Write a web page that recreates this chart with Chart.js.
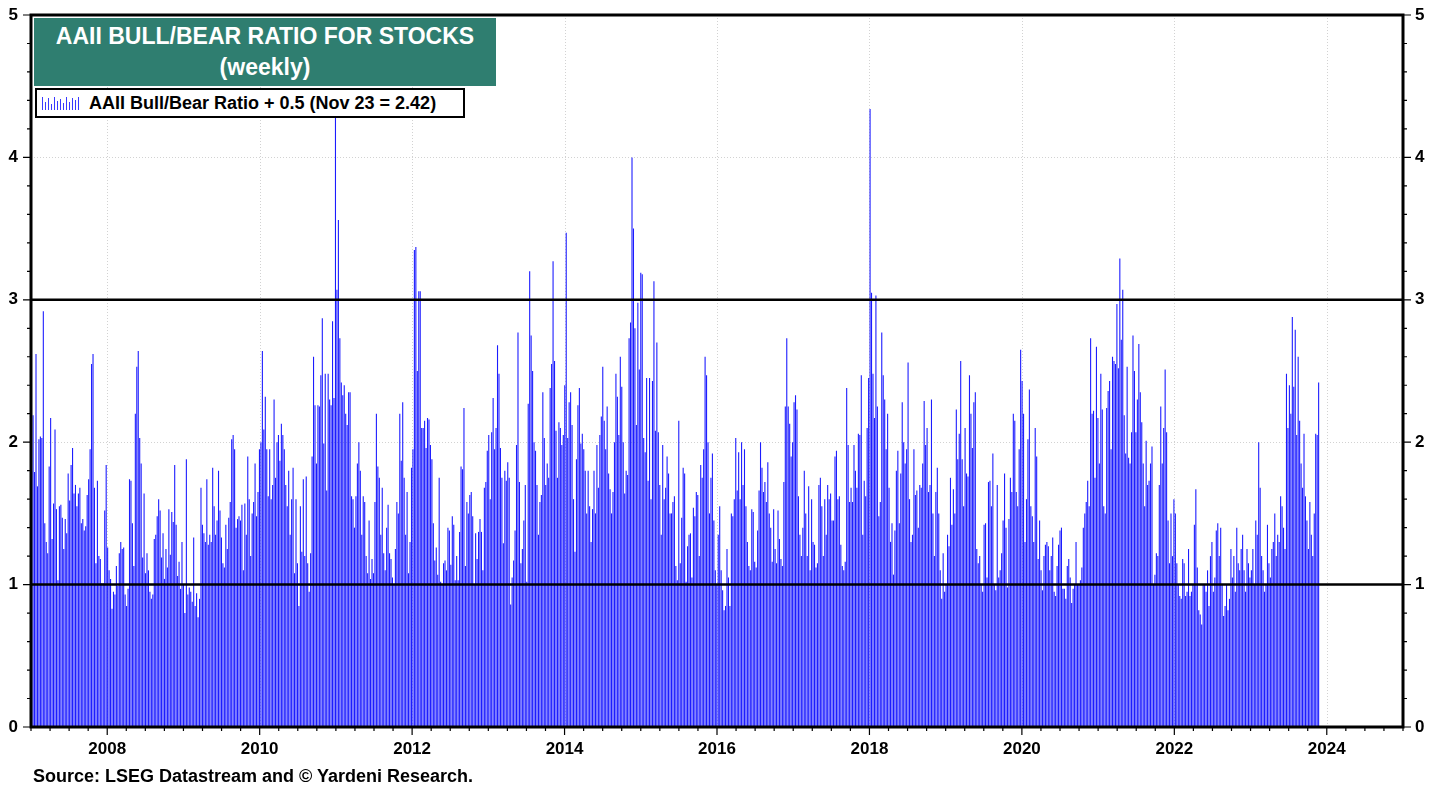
<!DOCTYPE html>
<html>
<head>
<meta charset="utf-8">
<title>AAII Bull/Bear Ratio for Stocks</title>
<script src="https://cdn.jsdelivr.net/npm/chart.js@4.4.0/dist/chart.umd.min.js"></script>
<style>
  html, body { margin: 0; padding: 0; background: #fff; }
  body { width: 1446px; height: 789px; position: relative; overflow: hidden;
         font-family: "Liberation Sans", Arial, sans-serif; }
  #wrap { position: absolute; left: 0; top: 0; width: 1446px; height: 789px; }
  .title { position: absolute; left: 34px; top: 18px; width: 462px; height: 68px;
           box-sizing: border-box; padding-top: 3px; background: #2f7e70; color: #fff;
           font-weight: bold; font-size: 23px; line-height: 31px; text-align: center; }
  .legend { position: absolute; left: 35px; top: 88px; width: 430px; height: 30px;
            box-sizing: border-box; border: 2px solid #000; background: #fff;
            display: flex; align-items: center; font-weight: bold; font-size: 18px; }
  .legend .icon { display: flex; align-items: flex-end; height: 14px; margin: 0 8px 0 5px; }
  .legend .icon span { display: block; width: 1px; margin-right: 2px; background: #3a3aff; }
  .source { position: absolute; left: 33px; top: 766px; font-weight: bold; font-size: 18px;
            line-height: 20px; color: #000; }
</style>
</head>
<body>
<div id="wrap"><canvas id="chart"></canvas></div>
<div class="title">AAII BULL/BEAR RATIO FOR STOCKS<br>(weekly)</div>
<div class="legend"><div class="icon" id="icon"></div>AAII Bull/Bear Ratio + 0.5 (Nov 23 = 2.42)</div>
<div class="source">Source: LSEG Datastream and © Yardeni Research.</div>
<script>
// weekly readings (Thursdays), first one 2007-01-04, last one 2023-11-23
const firstWeek = Date.UTC(2007, 0, 4);

const v2007 = [1.80, 2.19, 1.79, 2.62, 1.69, 2.02, 2.04, 2.03, 2.92, 1.43, 1.30, 1.22, 1.83, 2.17, 1.32, 1.57, 2.09, 1.53, 1.03, 1.55, 1.56, 1.47, 1.25, 1.46, 1.36, 1.78, 1.59, 1.84, 1.96, 1.64, 1.70, 1.55, 1.64, 1.68, 1.43, 1.46, 1.38, 1.41, 1.63, 1.74, 1.95, 2.55, 2.62, 1.68, 1.15, 1.73, 1.20, 1.18, 1.01, 1.01, 1.52, 1.84];
const v2008 = [1.26, 1.10, 1.04, 0.83, 0.95, 0.93, 1.13, 0.99, 1.22, 1.30, 1.25, 1.26, 0.93, 0.85, 0.97, 1.74, 1.73, 1.43, 1.13, 2.20, 2.53, 2.64, 2.03, 1.85, 1.19, 1.64, 1.08, 1.22, 1.10, 0.95, 0.90, 0.93, 1.32, 1.35, 1.48, 1.60, 1.52, 1.19, 1.36, 1.04, 1.25, 1.12, 1.53, 1.21, 1.51, 1.44, 1.84, 1.42, 1.06, 1.16, 0.97, 1.30];
const v2009 = [1.00, 0.80, 1.88, 0.93, 0.98, 0.95, 0.88, 1.33, 0.85, 0.94, 0.77, 0.90, 1.68, 1.42, 1.36, 1.30, 1.74, 1.28, 1.35, 1.30, 1.82, 1.55, 1.35, 1.45, 1.80, 1.52, 1.33, 1.15, 1.12, 1.42, 1.25, 1.47, 1.58, 2.02, 2.05, 1.95, 1.40, 1.46, 1.48, 1.45, 1.56, 1.10, 1.57, 1.35, 1.90, 1.60, 1.20, 1.50, 1.58, 1.85, 1.48, 1.65, 1.95];
const v2010 = [2.00, 2.64, 2.09, 2.32, 1.95, 1.62, 1.95, 1.60, 1.70, 2.30, 1.75, 2.00, 2.05, 1.87, 2.13, 2.05, 1.95, 1.70, 1.55, 1.80, 1.35, 1.60, 1.82, 1.08, 1.60, 1.15, 0.85, 1.55, 1.23, 1.74, 1.20, 1.76, 1.15, 0.95, 1.22, 1.90, 2.60, 2.26, 1.85, 2.26, 2.25, 2.47, 2.87, 1.99, 2.48, 1.66, 2.48, 2.30, 2.26, 2.85, 2.31, 4.38];
const v2011 = [3.07, 3.56, 2.73, 2.42, 2.33, 2.40, 2.20, 2.12, 2.35, 2.35, 1.62, 1.60, 1.40, 1.62, 1.85, 2.00, 1.80, 1.35, 1.62, 1.58, 1.20, 1.08, 1.45, 1.04, 1.18, 1.08, 1.58, 2.20, 1.83, 1.75, 1.35, 1.68, 1.22, 1.10, 1.40, 1.56, 1.22, 1.18, 1.05, 1.00, 1.25, 1.58, 1.50, 2.20, 1.87, 2.28, 1.75, 1.35, 1.65, 1.08, 1.30, 1.82];
const v2012 = [1.95, 3.35, 3.37, 2.50, 3.06, 3.06, 2.10, 2.10, 2.15, 1.96, 2.17, 2.16, 1.98, 1.88, 1.43, 1.17, 1.26, 1.07, 1.75, 1.02, 1.00, 1.15, 1.17, 1.10, 1.40, 1.38, 1.14, 1.48, 1.42, 1.03, 1.20, 1.03, 1.37, 1.83, 1.81, 2.24, 1.13, 1.58, 1.50, 1.63, 1.65, 1.48, 1.00, 1.36, 1.18, 1.37, 1.46, 1.37, 1.10, 1.68, 1.72, 1.94];
const v2013 = [2.05, 1.60, 2.07, 2.31, 1.95, 2.10, 2.68, 2.48, 1.96, 1.75, 1.29, 1.80, 1.73, 1.86, 1.75, 0.86, 1.05, 1.17, 1.38, 1.98, 2.77, 1.72, 1.15, 1.25, 1.45, 1.70, 1.02, 2.27, 3.20, 2.75, 2.50, 2.00, 1.94, 1.70, 1.35, 1.58, 1.63, 2.35, 2.03, 1.70, 1.85, 1.75, 2.38, 2.55, 3.27, 2.57, 2.08, 1.75, 2.14, 2.10, 1.98, 2.05];
const v2014 = [2.40, 3.47, 2.03, 2.28, 2.35, 2.12, 1.60, 1.23, 1.88, 2.26, 2.38, 1.99, 2.06, 1.95, 1.80, 1.50, 1.80, 1.55, 1.30, 1.53, 1.80, 1.50, 1.98, 1.68, 2.05, 2.18, 2.53, 2.15, 1.95, 2.25, 1.78, 1.67, 1.50, 1.65, 2.00, 2.48, 2.32, 2.05, 2.60, 2.39, 2.00, 1.64, 1.80, 1.77, 2.73, 2.84, 4.00, 3.50, 2.80, 2.12, 2.98, 2.51];
const v2015 = [3.19, 3.18, 2.03, 1.93, 2.45, 1.73, 2.45, 1.60, 2.43, 3.13, 2.08, 2.70, 2.07, 1.70, 1.35, 1.98, 1.60, 1.68, 1.90, 1.78, 1.50, 1.50, 1.58, 1.62, 1.13, 1.03, 2.15, 1.15, 1.47, 1.82, 1.78, 1.02, 1.27, 1.35, 1.36, 1.05, 1.54, 1.48, 1.65, 1.63, 1.20, 1.84, 1.75, 1.95, 2.60, 2.47, 2.00, 1.50, 1.75, 1.92, 1.45, 1.10, 1.00];
const v2016 = [1.35, 1.55, 1.10, 0.96, 0.82, 0.85, 1.25, 1.05, 0.85, 1.50, 1.48, 1.60, 2.03, 1.66, 1.93, 1.60, 2.00, 1.70, 1.95, 1.55, 1.30, 1.13, 1.10, 1.53, 1.51, 1.16, 1.12, 1.38, 1.66, 2.00, 1.82, 1.65, 1.72, 1.58, 1.86, 1.50, 1.40, 1.16, 1.53, 1.25, 1.15, 1.52, 1.32, 1.18, 1.13, 1.72, 2.25, 2.73, 2.25, 2.13, 1.90, 2.00];
const v2017 = [2.28, 2.33, 2.23, 1.62, 1.35, 1.20, 1.40, 1.80, 1.50, 1.20, 1.69, 1.10, 1.60, 1.30, 1.28, 1.12, 1.15, 1.70, 1.75, 1.55, 1.20, 1.60, 1.35, 1.70, 1.60, 1.64, 1.45, 1.45, 1.90, 1.94, 1.60, 1.62, 1.28, 1.13, 1.10, 1.16, 2.38, 1.98, 1.58, 1.68, 1.58, 1.98, 1.80, 1.68, 2.06, 2.05, 2.47, 1.35, 1.73, 1.62, 2.10, 2.45];
const v2018 = [4.34, 3.05, 2.48, 2.17, 3.03, 2.25, 1.48, 1.58, 2.77, 2.47, 2.30, 1.95, 2.20, 1.68, 1.30, 1.43, 1.07, 1.38, 1.80, 1.94, 1.43, 1.78, 2.28, 2.00, 1.85, 1.95, 2.56, 1.60, 1.30, 1.35, 1.95, 1.63, 1.66, 1.40, 1.70, 1.68, 1.85, 2.29, 1.98, 2.10, 1.65, 1.70, 2.30, 1.50, 1.20, 1.65, 1.82, 1.50, 1.10, 0.90, 1.22, 0.95];
const v2019 = [1.00, 1.35, 1.27, 1.75, 1.42, 1.67, 1.50, 2.23, 1.88, 2.06, 2.57, 1.88, 1.55, 2.10, 1.78, 1.76, 2.47, 2.20, 1.96, 2.28, 2.35, 1.25, 1.15, 1.20, 1.00, 0.95, 1.42, 1.43, 1.05, 1.72, 1.73, 1.55, 1.92, 1.00, 0.96, 1.70, 1.05, 1.10, 1.22, 1.45, 1.78, 1.40, 0.98, 1.46, 1.75, 1.65, 2.20, 2.15, 1.65, 1.55, 1.95, 2.65];
const v2020 = [2.43, 2.20, 1.30, 1.60, 2.02, 2.37, 1.55, 1.48, 1.30, 2.10, 1.90, 1.18, 1.45, 1.10, 0.96, 1.20, 1.28, 1.30, 1.27, 1.10, 1.20, 1.33, 0.95, 0.92, 1.13, 1.28, 1.38, 1.40, 0.97, 0.97, 0.90, 1.13, 1.18, 1.05, 0.87, 0.97, 1.00, 1.30, 1.00, 1.00, 1.03, 1.12, 1.40, 1.50, 1.58, 1.73, 1.55, 2.73, 2.20, 2.22, 1.75, 2.67, 2.17];
const v2021 = [1.85, 2.48, 2.23, 1.55, 1.50, 2.24, 2.36, 2.43, 1.95, 2.60, 2.57, 2.55, 2.97, 2.52, 3.29, 2.72, 3.07, 2.19, 1.92, 2.53, 1.89, 1.85, 2.07, 2.75, 2.50, 2.07, 2.30, 2.69, 2.35, 2.14, 1.85, 1.55, 2.01, 1.70, 1.73, 1.85, 1.97, 1.00, 1.07, 1.22, 1.20, 1.70, 2.25, 1.85, 2.10, 2.51, 2.07, 1.45, 1.15, 1.50, 1.20, 1.60];
const v2022 = [1.50, 1.15, 1.00, 0.92, 0.90, 1.18, 1.15, 0.92, 0.95, 1.25, 0.92, 0.95, 1.00, 1.42, 1.67, 1.12, 0.82, 0.79, 0.72, 1.00, 1.00, 0.95, 1.10, 0.85, 1.20, 1.30, 0.95, 1.05, 1.38, 1.43, 1.20, 1.40, 1.00, 0.78, 0.85, 1.00, 0.82, 0.90, 1.25, 1.05, 1.20, 0.95, 1.40, 1.15, 1.10, 1.25, 1.35, 1.10, 0.95, 1.25, 1.15, 1.05];
const v2023 = [1.10, 1.25, 1.00, 1.45, 1.35, 2.00, 1.68, 1.20, 1.10, 0.95, 1.00, 1.42, 1.15, 1.05, 1.25, 1.30, 1.50, 1.20, 1.35, 1.30, 1.62, 1.55, 1.40, 1.25, 2.48, 2.10, 2.40, 2.20, 2.88, 2.39, 2.79, 2.05, 2.60, 2.15, 1.85, 1.68, 2.06, 1.62, 1.45, 1.25, 1.58, 1.35, 1.20, 1.50, 2.06, 2.05, 2.42];

const labelYears = [2008, 2010, 2012, 2014, 2016, 2018, 2020, 2022, 2024];
const dottedLevels = [2, 4];
const heavyLevels = [1, 3];

const BAR_COLOR = "#1c1cff";
const FONT = "'Liberation Sans', Arial, sans-serif";

const values = [].concat(v2007, v2008, v2009, v2010, v2011, v2012, v2013, v2014,
  v2015, v2016, v2017, v2018, v2019, v2020, v2021, v2022, v2023);

function decYear(ms) {
  const d = new Date(ms);
  const y = d.getUTCFullYear();
  const a = Date.UTC(y, 0, 1), b = Date.UTC(y + 1, 0, 1);
  return y + (ms - a) / (b - a);
}

const points = values.map((v, i) => ({ x: decYear(firstWeek + i * 7 * 86400000), y: v }));

// little bar pattern for the legend swatch
(function icon() {
  const hs = [13, 8, 12, 6, 13, 9, 11, 7, 13, 8, 12, 10, 13];
  const box = document.getElementById("icon");
  hs.forEach((h) => {
    const s = document.createElement("span");
    s.style.height = h + "px";
    box.appendChild(s);
  });
})();

const decor = {
  id: "decor",
  beforeDatasetsDraw(chart) {
    const { ctx, chartArea: a, scales: { x, y } } = chart;
    ctx.save();
    ctx.strokeStyle = "#d2d2d2";
    ctx.lineWidth = 1;
    ctx.setLineDash([1, 2]);
    ctx.beginPath();
    labelYears.forEach((yr) => {
      const px = Math.round(x.getPixelForValue(yr)) + 0.5;
      ctx.moveTo(px, a.top); ctx.lineTo(px, a.bottom);
    });
    dottedLevels.forEach((lv) => {
      const py = Math.round(y.getPixelForValue(lv)) + 0.5;
      ctx.moveTo(a.left, py); ctx.lineTo(a.right, py);
    });
    ctx.stroke();
    ctx.restore();
  },
  afterDatasetsDraw(chart) {
    const { ctx, chartArea: a, scales: { x, y } } = chart;
    ctx.save();
    ctx.strokeStyle = "#000";
    // heavy reference lines over the bars
    ctx.lineWidth = 2.5;
    heavyLevels.forEach((lv) => {
      const py = y.getPixelForValue(lv);
      ctx.beginPath(); ctx.moveTo(a.left, py); ctx.lineTo(a.right, py); ctx.stroke();
    });
    // tick marks
    ctx.lineWidth = 1.2;
    ctx.beginPath();
    for (let q = 0; q <= 72; q++) {
      const px = x.getPixelForValue(2007 + q / 4);
      const len = (q % 8 === 4) ? 8 : 4;
      ctx.moveTo(px, a.bottom); ctx.lineTo(px, a.bottom + len);
    }
    for (let k = 0; k <= 25; k++) {
      const py = y.getPixelForValue(k / 5);
      const len = (k % 5 === 0) ? 8 : 4;
      ctx.moveTo(a.left, py); ctx.lineTo(a.left - len, py);
      ctx.moveTo(a.right, py); ctx.lineTo(a.right + len, py);
    }
    ctx.stroke();
    // frame
    ctx.lineWidth = 3;
    ctx.strokeRect(a.left, a.top, a.right - a.left, a.bottom - a.top);
    ctx.restore();
  },
};

const tickFont = { family: FONT, size: 17, weight: "bold" };
const noGrid = { display: false, drawTicks: false, drawOnChartArea: false, color: "transparent" };

new Chart(document.getElementById("chart"), {
  type: "bar",
  data: {
    datasets: [{
      data: points,
      backgroundColor: BAR_COLOR,
      borderWidth: 0,
      barPercentage: 0.75,
      categoryPercentage: 1,
    }],
  },
  options: {
    responsive: true,
    maintainAspectRatio: false,
    animation: false,
    layout: { padding: { top: 15, left: 0, right: 0, bottom: 0 } },
    plugins: { legend: { display: false }, tooltip: { enabled: false } },
    scales: {
      x: {
        type: "linear",
        min: 2007,
        max: 2025,
        offset: false,
        grid: noGrid,
        border: { display: false },
        ticks: {
          stepSize: 1,
          autoSkip: false,
          maxRotation: 0,
          padding: 12,
          color: "#000",
          font: tickFont,
          callback: (v) => (labelYears.includes(v) ? String(v) : ""),
        },
        afterFit: (s) => { s.height = 62; s.paddingLeft = 0; s.paddingRight = 0; },
      },
      y: {
        position: "left",
        min: 0,
        max: 5,
        grid: noGrid,
        border: { display: false },
        ticks: { stepSize: 1, padding: 13, color: "#000", font: tickFont },
        afterFit: (s) => { s.width = 31; s.paddingTop = 0; s.paddingBottom = 0; },
      },
      y2: {
        position: "right",
        min: 0,
        max: 5,
        grid: noGrid,
        border: { display: false },
        ticks: { stepSize: 1, padding: 12, color: "#000", font: tickFont },
        afterFit: (s) => { s.width = 43; s.paddingTop = 0; s.paddingBottom = 0; },
      },
    },
  },
  plugins: [decor],
});
</script>
</body>
</html>
